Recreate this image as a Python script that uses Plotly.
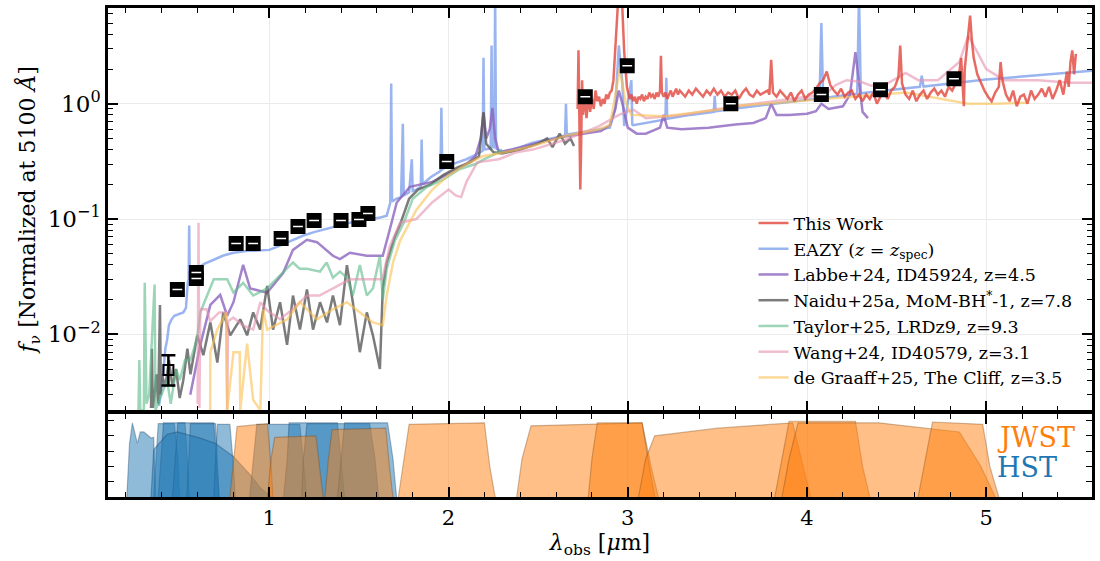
import plotly.graph_objects as go

# ---------------- photometry ----------------
phot_wave = [0.487, 0.593, 0.593, 0.815, 0.910, 1.066, 1.160, 1.250, 1.400, 1.500, 1.550, 1.990, 2.763, 2.997, 3.575, 4.080, 4.410, 4.820]
phot_flux = [0.0245, 0.0344, 0.0305, 0.0614, 0.0614, 0.0678, 0.086, 0.097, 0.097, 0.099, 0.1117, 0.315, 1.15, 2.13, 1.0, 1.20, 1.32, 1.65]
low_wave = [0.437]
low_flux = [0.0049]
low_err_up = [0.0017]
low_err_dn = [0.0013]

# ---------------- spectra ----------------
eazy_wave = [0.385,0.40,0.41,0.42,0.43,0.44,0.455,0.47,0.50,0.52,
             0.535,0.54,0.545,0.55,0.553,0.556,0.57,0.59,0.64,0.70,
             0.74,0.80,0.83,0.88,0.92,1.00,1.05,1.10,1.15,1.19,
             1.25,1.30,1.38,1.45,1.50,1.56,1.62,1.655,1.668,1.675,
             1.68,1.685,1.71,1.735,1.745,1.75,1.78,1.795,1.80,1.82,
             1.845,1.85,1.855,1.90,1.955,1.96,1.965,2.00,2.05,2.10,
             2.15,2.19,2.195,2.20,2.235,2.24,2.245,2.255,2.26,2.265,
             2.30,2.40,2.47,2.55,2.65,2.655,2.66,2.75,2.84,2.90,
             2.93,2.95,2.97,2.98,3.02,3.025,3.03,3.10,3.21,3.215,
             3.22,3.35,3.48,3.485,3.49,3.58,3.70,3.80,3.90,4.00,
             4.07,4.08,4.09,4.20,4.28,4.29,4.30,4.40,4.50,4.63,
             4.64,4.65,4.80,5.00,5.20,5.40,5.59]
eazy_flux = [0.0024,0.0035,0.005,0.0075,0.009,0.012,0.0135,0.0145,0.015,0.0155,
             0.017,0.024,0.028,0.030,0.088,0.032,0.035,0.037,0.041,0.045,
             0.048,0.051,0.052,0.053,0.053,0.054,0.058,0.063,0.068,0.072,
             0.077,0.081,0.088,0.093,0.096,0.099,0.103,0.107,0.13,0.139,
             1.5,0.142,0.15,0.155,0.67,0.16,0.17,0.33,0.175,0.18,
             0.19,0.49,0.20,0.23,0.26,0.92,0.27,0.29,0.31,0.33,
             0.36,0.39,2.5,0.40,0.41,3.2,0.42,0.42,9.0,0.41,
             0.38,0.42,0.46,0.49,0.53,1.0,0.54,0.57,0.60,0.62,
             0.9,3.2,1.5,0.64,1.6,0.66,0.65,0.68,0.73,1.68,
             0.74,0.80,0.85,1.17,0.86,0.90,0.95,1.0,1.04,1.08,
             1.11,5.0,1.12,1.17,1.22,9.0,1.23,1.28,1.33,1.40,
             1.75,1.41,1.50,1.62,1.72,1.82,1.93]

thiswork_wave = [2.72,2.725,2.73,2.735,2.74,2.745,2.75,2.755,2.76,2.77,
                 2.78,2.79,2.80,2.81,2.82,2.83,2.84,2.85,2.86,2.87,
                 2.88,2.89,2.90,2.91,2.92,2.935,2.95,2.965,2.98,2.995,
                 3.01,3.02,3.03,3.04,3.05,3.06,3.07,3.08,3.09,3.10,
                 3.11,3.12,3.13,3.14,3.15,3.16,3.17,3.18,3.185,3.19,
                 3.20,3.21,3.22,3.23,3.24,3.25,3.26,3.27,3.28,3.29,
                 3.30,3.32,3.34,3.36,3.38,3.40,3.42,3.44,3.46,3.48,
                 3.50,3.52,3.54,3.56,3.58,3.60,3.62,3.64,3.66,3.68,
                 3.70,3.72,3.74,3.76,3.78,3.79,3.80,3.81,3.83,3.85,
                 3.87,3.89,3.91,3.93,3.95,3.97,3.99,4.01,4.03,4.05,
                 4.07,4.09,4.11,4.12,4.13,4.15,4.17,4.19,4.21,4.23,
                 4.25,4.27,4.29,4.31,4.33,4.35,4.37,4.39,4.41,4.43,
                 4.45,4.47,4.49,4.51,4.52,4.53,4.55,4.57,4.59,4.61,
                 4.63,4.65,4.67,4.69,4.71,4.73,4.75,4.77,4.79,4.81,
                 4.83,4.85,4.86,4.87,4.875,4.88,4.89,4.90,4.91,4.92,
                 4.93,4.95,4.97,4.99,5.01,5.03,5.05,5.07,5.08,5.09,
                 5.11,5.13,5.15,5.17,5.19,5.21,5.23,5.25,5.27,5.29,
                 5.31,5.33,5.35,5.37,5.39,5.41,5.43,5.44,5.45,5.46,
                 5.47,5.48,5.49,5.50]
thiswork_flux = [0.9,2.9,0.7,0.18,0.45,1.6,0.8,1.3,1.0,0.75,
                 1.2,0.85,1.1,0.9,1.3,1.05,1.15,0.95,1.1,1.0,
                 1.2,1.1,1.25,1.3,1.6,4.0,10.0,10.0,2.8,1.4,
                 1.1,1.2,1.05,1.15,1.0,1.15,1.1,1.2,1.05,1.15,
                 1.1,1.25,1.15,1.2,1.1,1.25,1.15,1.3,2.6,1.25,
                 1.15,1.25,1.1,1.2,1.3,1.15,1.25,1.35,1.2,1.3,
                 1.25,1.15,1.3,1.2,1.35,1.25,1.15,1.3,1.2,1.35,
                 1.2,1.3,1.15,1.25,1.2,1.3,1.1,1.25,1.35,1.2,
                 1.15,1.3,1.2,1.25,1.3,1.2,2.4,1.25,1.15,1.3,
                 1.2,1.1,1.25,1.05,1.2,1.3,1.1,1.2,1.25,1.35,
                 1.5,1.6,1.9,1.7,1.45,1.3,1.2,1.35,1.15,1.25,
                 1.3,1.1,1.2,1.05,1.2,1.1,1.25,1.0,1.15,1.25,
                 1.1,1.3,1.4,1.7,3.2,1.5,1.2,1.1,1.3,1.05,
                 1.2,1.3,1.1,1.25,1.35,1.2,1.3,1.15,1.4,1.3,
                 1.5,1.9,2.5,1.3,0.95,2.0,3.0,4.5,5.8,3.5,
                 2.5,1.8,1.5,1.3,1.15,1.05,1.25,1.4,2.3,1.6,
                 1.2,1.05,1.3,0.95,1.15,1.2,1.0,1.3,1.1,1.2,
                 1.35,1.15,1.4,1.1,1.3,1.6,1.2,1.5,1.9,1.4,
                 2.3,2.9,1.8,2.7]

labbe_wave = [0.559,0.615,0.671,0.726,0.765,0.80,0.854,0.893,0.988,1.077,
              1.132,1.21,1.266,1.355,1.394,1.45,1.544,1.633,1.672,1.711,
              1.784,1.91,2.006,2.10,2.15,2.18,2.195,2.21,2.23,2.245,
              2.26,2.28,2.35,2.45,2.55,2.65,2.75,2.85,2.90,2.93,
              2.95,2.97,3.00,3.05,3.10,3.18,3.20,3.22,3.30,3.45,
              3.60,3.70,3.77,3.80,3.83,3.90,4.00,4.05,4.08,4.12,
              4.20,4.24,4.27,4.29,4.31,4.34]
labbe_flux = [0.0030,0.0081,0.018,0.022,0.0145,0.019,0.040,0.025,0.023,0.034,
              0.054,0.066,0.063,0.048,0.045,0.051,0.048,0.048,0.081,0.139,
              0.19,0.21,0.25,0.30,0.35,0.50,0.84,0.50,0.60,0.92,
              0.50,0.38,0.40,0.44,0.48,0.52,0.55,0.58,0.65,0.90,
              1.3,1.0,0.62,0.55,0.55,0.62,0.80,0.62,0.60,0.62,
              0.66,0.68,0.75,1.0,0.80,0.80,0.82,0.86,1.0,0.90,
              0.95,1.2,2.8,1.5,0.85,0.75]

naidu_wave = [0.34,0.345,0.35,0.36,0.37,0.38,0.39,0.395,0.40,0.42,
              0.44,0.46,0.48,0.50,0.52,0.543,0.56,0.575,0.598,0.632,
              0.671,0.71,0.743,0.782,0.838,0.876,0.91,0.949,0.988,1.021,
              1.06,1.099,1.132,1.171,1.21,1.244,1.283,1.322,1.355,1.394,
              1.433,1.466,1.505,1.544,1.578,1.617,1.633,1.655,1.70,1.73,
              1.78,1.83,1.90,1.97,2.05,2.12,2.17,2.195,2.21,2.25,
              2.30,2.40,2.50,2.55,2.58,2.62,2.65,2.68,2.70]
naidu_flux = [0.0023,0.0075,0.0023,0.003,0.0045,0.0025,0.018,0.003,0.0045,0.0035,
              0.006,0.0035,0.005,0.0028,0.004,0.0075,0.0045,0.006,0.0098,0.0066,
              0.0127,0.0057,0.0155,0.0098,0.0135,0.0098,0.0155,0.011,0.0263,0.011,
              0.019,0.0081,0.0217,0.011,0.0245,0.011,0.019,0.0127,0.0217,0.012,
              0.0398,0.019,0.007,0.0155,0.0098,0.005,0.025,0.042,0.07,0.09,
              0.15,0.18,0.20,0.24,0.28,0.31,0.35,0.84,0.45,0.38,
              0.37,0.40,0.45,0.50,0.42,0.55,0.45,0.50,0.43]

taylor_wave = [0.27,0.275,0.28,0.30,0.305,0.315,0.33,0.36,0.365,0.40,
               0.43,0.45,0.48,0.50,0.53,0.56,0.58,0.60,0.615,0.69,
               0.765,0.80,0.854,0.91,0.988,1.06,1.132,1.17,1.21,1.283,
               1.32,1.355,1.394,1.433,1.466,1.505,1.544,1.578,1.617,1.633,
               1.655,1.70,1.75,1.80,1.88,1.97,2.06,2.12,2.15,2.20,
               2.25,2.30]
taylor_flux = [0.0022,0.006,0.0022,0.0022,0.028,0.0025,0.003,0.027,0.0022,0.003,
               0.004,0.0025,0.005,0.004,0.006,0.006,0.0075,0.010,0.0155,0.030,
               0.030,0.023,0.028,0.0217,0.025,0.0325,0.042,0.037,0.037,0.035,
               0.042,0.031,0.035,0.031,0.0217,0.040,0.0217,0.025,0.048,0.020,
               0.037,0.065,0.093,0.15,0.19,0.22,0.27,0.29,0.30,0.33,
               0.36,0.40]

wang_wave = [0.60,0.605,0.61,0.615,0.65,0.67,0.72,0.76,0.765,0.77,
             0.80,0.85,0.91,0.95,0.99,1.06,1.13,1.21,1.28,1.355,
             1.45,1.54,1.63,1.672,1.73,1.82,1.91,2.00,2.04,2.07,
             2.10,2.16,2.28,2.38,2.47,2.66,2.84,2.95,3.03,3.10,
             3.30,3.60,3.90,4.10,4.16,4.22,4.30,4.36,4.45,4.55,
             4.62,4.73,4.85,4.90,4.95,5.00,5.10,5.29,5.47,5.59]
wang_flux = [0.0025,0.093,0.0023,0.0165,0.0165,0.013,0.0155,0.0155,0.0022,0.013,
             0.014,0.012,0.011,0.019,0.016,0.0135,0.0165,0.0217,0.0217,0.025,
             0.030,0.030,0.030,0.058,0.093,0.10,0.14,0.18,0.16,0.155,
             0.21,0.31,0.33,0.38,0.40,0.49,0.64,0.80,0.89,0.75,
             0.80,0.95,1.1,1.2,1.45,1.6,1.55,1.43,1.5,1.85,
             1.6,1.6,2.3,3.9,2.8,2.0,1.6,1.6,1.52,1.52]

degraaff_wave = [0.67,0.671,0.71,0.76,0.765,0.80,0.835,0.838,0.876,0.91,
                 0.95,0.965,0.988,1.10,1.171,1.266,1.355,1.433,1.505,1.578,
                 1.633,1.655,1.69,1.73,1.82,1.91,2.00,2.10,2.19,2.28,
                 2.47,2.66,2.84,2.90,2.93,2.955,2.99,3.02,3.21,3.58,
                 3.62,4.18,4.55,4.90,5.05,5.23]
degraaff_flux = [0.0022,0.0070,0.011,0.0155,0.0022,0.0070,0.0070,0.0022,0.0083,0.0027,
                 0.0022,0.0165,0.011,0.0135,0.019,0.0135,0.0165,0.019,0.0155,0.0127,
                 0.012,0.0217,0.042,0.065,0.12,0.18,0.24,0.30,0.35,0.37,
                 0.43,0.53,0.60,0.65,1.17,2.0,1.0,0.80,0.78,0.92,
                 0.96,1.13,1.25,1.0,1.0,1.02]

# ---------------- filter curves ----------------
f275w_wave = [0.205,0.22,0.236,0.25,0.264,0.28,0.30,0.34,0.355,0.36,0.367]
f275w_trans = [0,0.7,0.97,0.85,0.7,0.85,0.85,0.77,0.78,0.4,0]
f435w_wave = [0.355,0.37,0.38,0.47,0.49,0.50]
f435w_trans = [0,0.6,0.96,0.96,0.5,0]
f475w_wave = [0.38,0.395,0.41,0.53,0.545,0.555]
f475w_trans = [0,0.5,0.97,0.97,0.4,0]
f606w_wave = [0.46,0.475,0.49,0.69,0.71,0.72]
f606w_trans = [0,0.5,0.97,0.97,0.4,0]
f625w_wave = [0.54,0.55,0.56,0.70,0.71,0.72]
f625w_trans = [0,0.5,0.96,0.96,0.5,0]
f775w_wave = [0.69,0.70,0.71,0.78,0.80,0.81]
f775w_trans = [0,0.5,0.95,0.95,0.4,0]
f350lp_wave = [0.34,0.355,0.43,0.487,0.615,0.70,0.80,0.89,0.95,1.0,1.02]
f350lp_trans = [0,0.62,0.82,0.85,0.77,0.7,0.53,0.3,0.12,0.02,0]
f105w_wave = [0.89,0.91,0.93,1.17,1.19,1.21]
f105w_trans = [0,0.5,0.95,0.95,0.5,0]
f125w_wave = [1.08,1.10,1.11,1.38,1.40,1.42]
f125w_trans = [0,0.5,0.97,0.97,0.5,0]
f140w_wave = [1.18,1.19,1.21,1.56,1.59,1.61]
f140w_trans = [0,0.5,0.96,0.96,0.5,0]
f160w_wave = [1.38,1.40,1.42,1.66,1.69,1.71]
f160w_trans = [0,0.5,0.97,0.97,0.5,0]

f090w_wave = [0.78,0.80,0.82,0.99,1.01,1.02]
f090w_trans = [0,0.5,0.92,0.96,0.4,0]
f115w_wave = [0.99,1.01,1.03,1.26,1.28,1.30]
f115w_trans = [0,0.5,0.78,0.80,0.4,0]
f150w_wave = [1.31,1.33,1.35,1.65,1.67,1.69]
f150w_trans = [0,0.5,0.88,0.90,0.4,0]
f200w_wave = [1.72,1.75,1.78,2.20,2.23,2.26]
f200w_trans = [0,0.5,0.95,0.97,0.4,0]
f277w_wave = [2.38,2.41,2.46,3.08,3.13,3.17]
f277w_trans = [0,0.5,0.93,0.97,0.4,0]
f300m_wave = [2.78,2.80,2.83,3.08,3.12,3.15]
f300m_trans = [0,0.5,0.97,0.97,0.4,0]
f356w_wave = [3.06,3.10,3.15,3.50,3.92,3.98,4.02]
f356w_trans = [0,0.5,0.8,0.9,0.97,0.4,0]
f410m_wave = [3.82,3.86,3.90,4.27,4.31,4.35]
f410m_trans = [0,0.5,0.99,0.99,0.4,0]
f444w_wave = [3.86,3.90,3.95,4.40,4.85,4.97,5.05]
f444w_trans = [0,0.5,0.97,0.97,0.85,0.4,0]
f480m_wave = [4.62,4.66,4.70,4.98,5.02,5.07]
f480m_trans = [0,0.5,0.98,0.95,0.4,0]

hst_curves = [(f275w_wave, f275w_trans), (f435w_wave, f435w_trans), (f475w_wave, f475w_trans),
              (f606w_wave, f606w_trans), (f625w_wave, f625w_trans), (f775w_wave, f775w_trans),
              (f350lp_wave, f350lp_trans), (f105w_wave, f105w_trans), (f125w_wave, f125w_trans),
              (f140w_wave, f140w_trans), (f160w_wave, f160w_trans)]
jwst_curves = [(f090w_wave, f090w_trans), (f115w_wave, f115w_trans), (f150w_wave, f150w_trans),
               (f200w_wave, f200w_trans), (f277w_wave, f277w_trans), (f300m_wave, f300m_trans),
               (f356w_wave, f356w_trans), (f410m_wave, f410m_trans), (f444w_wave, f444w_trans),
               (f480m_wave, f480m_trans)]

SERIF = "DejaVu Serif"
fig = go.Figure()

for w, t in hst_curves:
    fig.add_trace(go.Scatter(x=w, y=t, xaxis="x2", yaxis="y2", mode="lines", fill="toself",
                             fillcolor="rgba(31,119,180,0.5)", line=dict(color="rgba(20,60,100,0.35)", width=1.2),
                             showlegend=False, hoverinfo="skip"))
for w, t in jwst_curves:
    fig.add_trace(go.Scatter(x=w, y=t, xaxis="x2", yaxis="y2", mode="lines", fill="toself",
                             fillcolor="rgba(255,127,14,0.5)", line=dict(color="rgba(120,70,20,0.35)", width=1.2),
                             showlegend=False, hoverinfo="skip"))

spectra = [
    ("EAZY (<i>z</i> = <i>z</i><sub>spec</sub>)", eazy_wave, eazy_flux, "rgba(100,140,232,0.65)", 2),
    ("Labbe+24, ID45924, z=4.5", labbe_wave, labbe_flux, "rgba(140,100,190,0.8)", 3),
    ("Naidu+25a, MoM-BH<sup>*</sup>-1, z=7.8", naidu_wave, naidu_flux, "rgba(90,90,90,0.8)", 4),
    ("Taylor+25, LRDz9, z=9.3", taylor_wave, taylor_flux, "rgba(90,185,135,0.6)", 5),
    ("Wang+24, ID40579, z=3.1", wang_wave, wang_flux, "rgba(228,145,175,0.6)", 6),
    ("de Graaff+25, The Cliff, z=3.5", degraaff_wave, degraaff_flux, "rgba(252,192,80,0.6)", 7),
    ("This Work", thiswork_wave, thiswork_flux, "rgba(225,70,60,0.8)", 1),
]
for name, w, f, c, rank in spectra:
    fig.add_trace(go.Scatter(x=w, y=f, mode="lines", name=name, legendrank=rank,
                             line=dict(color=c, width=2.5), xaxis="x", yaxis="y"))

fig.add_trace(go.Scatter(x=low_wave, y=low_flux, mode="markers", showlegend=False,
                         marker=dict(symbol="square-open", size=10, color="black", line=dict(width=2, color="black")),
                         error_y=dict(type="data", array=low_err_up, arrayminus=low_err_dn, color="black", thickness=2.5, width=7),
                         xaxis="x", yaxis="y"))
fig.add_trace(go.Scatter(x=phot_wave, y=phot_flux, mode="markers", showlegend=False,
                         marker=dict(symbol="square", size=15, color="black"),
                         xaxis="x", yaxis="y"))
fig.add_trace(go.Scatter(x=phot_wave, y=phot_flux, mode="markers", showlegend=False,
                         marker=dict(symbol="line-ew", size=7, line=dict(color="white", width=1.5)),
                         xaxis="x", yaxis="y", hoverinfo="skip"))

axis_common = dict(showline=True, linewidth=2.5, linecolor="black", mirror="ticks",
                   ticks="inside", tickcolor="black", zeroline=False)
xr = [0.1, 5.59]
y_minor = [0.003,0.004,0.005,0.006,0.007,0.008,0.009,0.02,0.03,0.04,0.05,0.06,0.07,0.08,0.09,
           0.2,0.3,0.4,0.5,0.6,0.7,0.8,0.9,2,3,4,5,6]

fig.update_layout(
    width=1100, height=561, margin=dict(l=108, r=6, t=5, b=64),
    paper_bgcolor="white", plot_bgcolor="white",
    font=dict(family=SERIF, color="black"),
    xaxis=dict(domain=[0, 1], anchor="y", range=xr, showticklabels=False, tickmode="linear", tick0=0, dtick=1,
               ticklen=10, tickwidth=1.5, showgrid=True, gridcolor="#ebebeb", gridwidth=1,
               minor=dict(tickmode="linear", tick0=0, dtick=0.2, ticks="inside", ticklen=5, tickwidth=1.2, tickcolor="black", showgrid=False),
               **axis_common),
    yaxis=dict(domain=[0.177, 1], anchor="x", type="log", range=[-2.66, 0.83], tickmode="array",
               tickvals=[0.01, 0.1, 1], ticktext=["10<sup>−2</sup>", "10<sup>−1</sup>", "10<sup>0</sup>"],
               tickfont=dict(family=SERIF, size=23, color="black"),
               ticklen=10, tickwidth=1.5, showgrid=True, gridcolor="#ebebeb", gridwidth=1,
               minor=dict(tickmode="array", tickvals=y_minor, ticks="inside", ticklen=5, tickwidth=1.2, tickcolor="black", showgrid=False),
               title=dict(text="<i>f</i><sub>ν</sub> [Normalized at 5100 <i>Å</i>]", font=dict(family=SERIF, size=22), standoff=6),
               **axis_common),
    xaxis2=dict(domain=[0, 1], anchor="y2", range=xr, matches="x", tickmode="linear", tick0=0, dtick=1,
                tickfont=dict(family=SERIF, size=21, color="black"),
                ticklen=10, tickwidth=1.5, showgrid=True, gridcolor="#ebebeb", gridwidth=1,
                minor=dict(tickmode="linear", tick0=0, dtick=0.2, ticks="inside", ticklen=5, tickwidth=1.2, tickcolor="black", showgrid=False),
                title=dict(text="<i>λ</i><sub>obs</sub> [<i>μ</i>m]", font=dict(family=SERIF, size=22), standoff=4),
                **axis_common),
    yaxis2=dict(domain=[0, 0.169], anchor="x2", range=[0, 1.08], tickmode="array",
                tickvals=[0, 0.2, 0.4, 0.6, 0.8, 1.0], showticklabels=False, ticklen=6, tickwidth=1.2,
                showgrid=False, **axis_common),
    legend=dict(x=0.656, y=0.597, xanchor="left", yanchor="top", bgcolor="rgba(255,255,255,0)",
                font=dict(family=SERIF, size=17.5, color="black"), itemwidth=30, tracegroupgap=0),
    annotations=[
        dict(text="JWST", xref="paper", yref="y2", x=0.9016, y=0.78, xanchor="left", yanchor="middle",
             showarrow=False, font=dict(family=SERIF, size=27, color="#ff7f0e")),
        dict(text="HST", xref="paper", yref="y2", x=0.9016, y=0.39, xanchor="left", yanchor="middle",
             showarrow=False, font=dict(family=SERIF, size=27, color="#1f77b4")),
    ],
)

fig.write_html("out.html")
